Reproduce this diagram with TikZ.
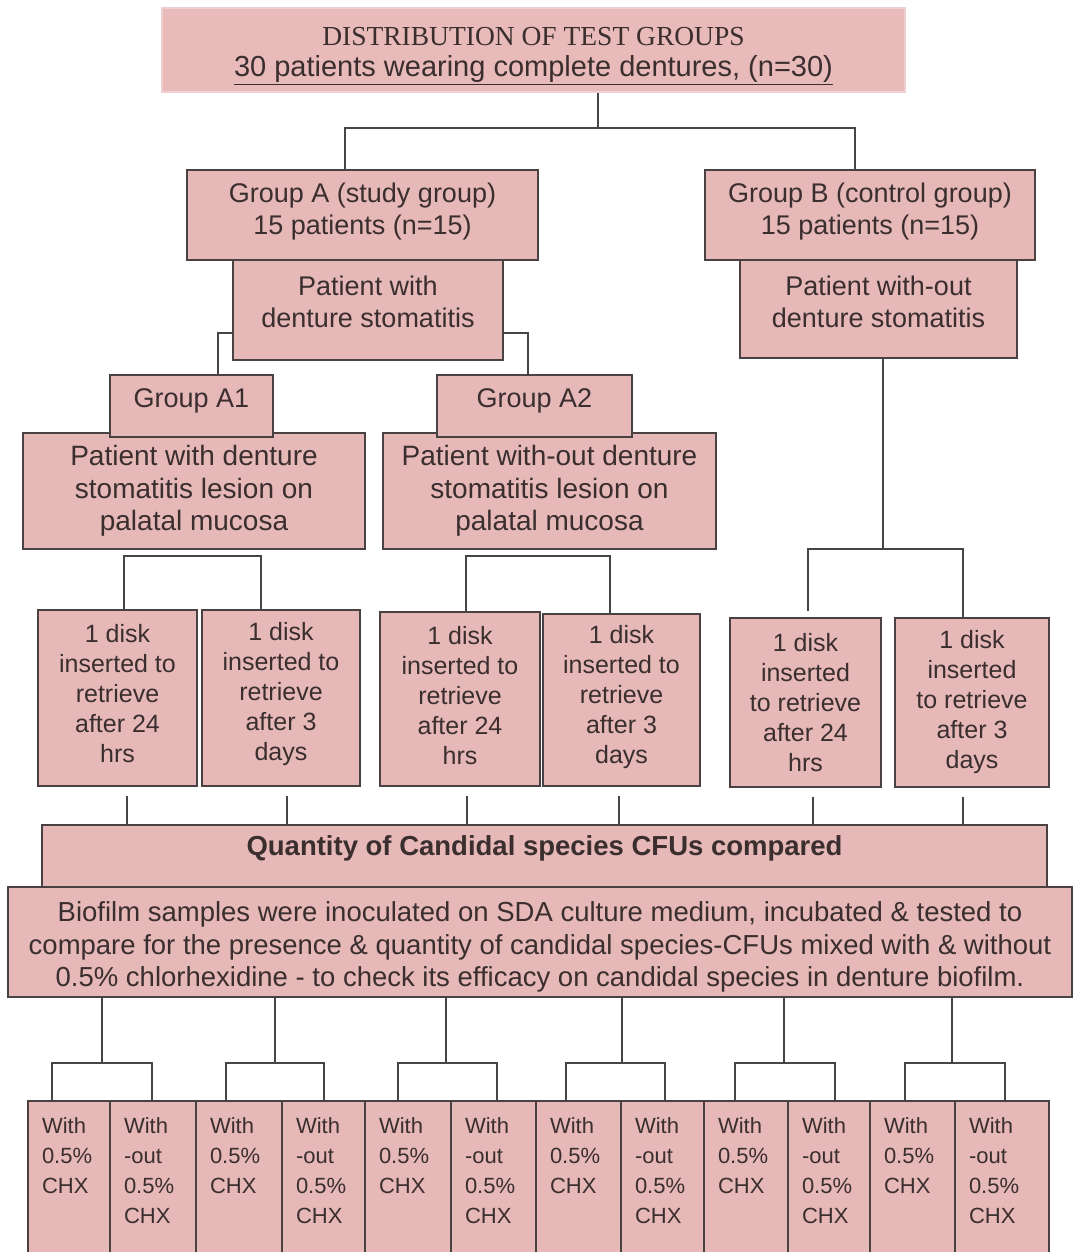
\documentclass[tikz,border=0pt]{standalone}
\usepackage{fontspec}
\setmainfont{Liberation Sans}
\newfontfamily\serifhead{Liberation Serif}
\definecolor{boxfill}{HTML}{E6B8B8}
\definecolor{topfill}{HTML}{E8BABA}
\definecolor{boxline}{HTML}{4A4242}
\definecolor{txt}{HTML}{3A2E2E}
\definecolor{linec}{HTML}{454545}
\begin{document}
\begin{tikzpicture}[x=1pt,y=-1pt,
  box/.style={draw=boxline, line width=2pt, fill=boxfill, text=txt, align=center, inner sep=0pt},
  lab/.style={text=txt, align=center, inner sep=0pt},
  glab/.style={lab, font=\fontsize{27}{32}\selectfont},
  blab/.style={lab, font=\fontsize{28}{32.5}\selectfont},
  dlab/.style={lab, font=\fontsize{25}{30}\selectfont},
  chx/.style={box, font=\fontsize{22}{30}\selectfont, anchor=north west},
  conn/.style={draw=linec, line width=1.8pt}]
\useasboundingbox (0,0) rectangle (1074,1252);
\fill[white] (0,0) rectangle (1074,1252);

% title
\node[fill=topfill, draw=topfill!70!white, line width=2pt, minimum width=743, minimum height=84,
      label={[lab, yshift=-6, font=\fontsize{29}{31}\selectfont]center:{{\serifhead\fontsize{27.5}{31}\selectfont DISTRIBUTION OF TEST GROUPS}\\
   \underline{30 patients wearing complete dentures, (n=30)}}}] (top) at (533.5,50) {};

% groups
\node[box, minimum width=351, minimum height=90,
      label={[glab, yshift=3]center:{Group A (study group)\\15 patients (n=15)}}] (GA) at (362.5,215) {};
\node[box, minimum width=270, minimum height=100,
      label={[glab, yshift=8]center:{Patient with\\denture stomatitis}}] (GAs) at (368,310) {};
\node[box, minimum width=330, minimum height=90,
      label={[glab, yshift=3]center:{Group B (control group)\\15 patients (n=15)}}] (GB) at (870,215) {};
\node[box, minimum width=277, minimum height=98,
      label={[glab, yshift=7]center:{Patient with-out\\denture stomatitis}}] (GBs) at (878.5,309) {};

\node[box, minimum width=342, minimum height=116,
      label={[blab]center:{Patient with denture\\stomatitis lesion on\\palatal mucosa}}] (A1b) at (194,491) {};
\node[box, minimum width=163, minimum height=62,
      label={[glab, yshift=5]center:{Group A1}}] (A1) at (191.5,406) {};
\node[box, minimum width=333, minimum height=116,
      label={[blab]center:{Patient with-out denture\\stomatitis lesion on\\palatal mucosa}}] (A2b) at (549.5,491) {};
\node[box, minimum width=195, minimum height=62,
      label={[glab, yshift=5]center:{Group A2}}] (A2) at (534.5,406) {};

% disks
\node[box, minimum width=159, minimum height=176,
      label={[dlab, yshift=4]center:{1 disk\\inserted to\\retrieve\\after 24\\hrs}}] (D1) at (117.5,698) {};
\node[box, minimum width=158, minimum height=176,
      label={[dlab, yshift=4]center:{1 disk\\inserted to\\retrieve\\after 3\\days}}] (D2) at (281,698) {};
\node[box, minimum width=160, minimum height=174,
      label={[dlab, yshift=3]center:{1 disk\\inserted to\\retrieve\\after 24\\hrs}}] (D3) at (460,699) {};
\node[box, minimum width=157, minimum height=172,
      label={[dlab, yshift=3]center:{1 disk\\inserted to\\retrieve\\after 3\\days}}] (D4) at (621.5,700) {};
\node[box, minimum width=151, minimum height=169,
      label={[dlab]center:{1 disk\\inserted\\to retrieve\\after 24\\hrs}}] (D5) at (805.5,702.5) {};
\node[box, minimum width=154, minimum height=169,
      label={[dlab]center:{1 disk\\inserted\\to retrieve\\after 3\\days}}] (D6) at (972,702.5) {};

% results
\node[box, minimum width=1005, minimum height=62,
      label={[lab, yshift=8, font=\bfseries\fontsize{27.5}{32}\selectfont]center:{Quantity of Candidal species CFUs compared}}] (Q) at (544.5,856) {};
\node[box, minimum width=1064, minimum height=110,
      label={[lab, yshift=-5, font=\fontsize{27.5}{32.5}\selectfont]center:{Biofilm samples were inoculated on SDA culture medium, incubated \& tested to\\
   compare for the presence \& quantity of candidal species-CFUs mixed with \& without\\
   0.5\% chlorhexidine - to check its efficacy on candidal species in denture biofilm.}}] (Bio) at (540,942) {};

% bottom boxes
\foreach \i/\l/\w/\k in {1/27/82/0,2/109/86/1,3/195/86/0,4/281/83/1,5/364/86/0,6/450/85/1,
                         7/535/85/0,8/620/83/1,9/703/84/0,10/787/82/1,11/869/85/0,12/954/94/1}{
  \ifnum\k=0
    \node[chx, minimum width=\w] (b\i) at (\l,1100)
      {\parbox[c][162pt][t]{\w pt}{\vspace*{17pt}\leftskip=14pt With\\0.5\%\\CHX}};
  \else
    \node[chx, minimum width=\w] (b\i) at (\l,1100)
      {\parbox[c][162pt][t]{\w pt}{\vspace*{17pt}\leftskip=14pt With\\-out\\0.5\%\\CHX}};
  \fi
}

% connectors: title to groups
\coordinate (c0) at (598,128);
\coordinate (cA) at (345,128);
\coordinate (cB) at (855,128);
\draw[conn] (top.south -| c0) -- (c0);
\draw[conn] (cA |- GA.north) -- (cA) -- (cB) -- (cB |- GB.north);

% group A to A1/A2
\coordinate (k1) at (218,333);
\coordinate (k2) at (528,333);
\draw[conn] (GAs.west |- k1) -- (k1) -- (k1 |- A1.north);
\draw[conn] (GAs.east |- k2) -- (k2) -- (k2 |- A2.north);

% to disks
\coordinate (m1) at (124,556); \coordinate (m2) at (261,556);
\draw[conn] (m1 |- D1.north) -- (m1) -- (m2) -- (m2 |- D2.north);
\coordinate (m3) at (466,556); \coordinate (m4) at (610,556);
\draw[conn] (m3 |- D3.north) -- (m3) -- (m4) -- (m4 |- D4.north);
\coordinate (n0) at (883,549); \coordinate (m5) at (808,549); \coordinate (m6) at (963,549);
\draw[conn] (GBs.south -| n0) -- (n0);
\draw[conn] ([yshift=6pt]m5 |- D5.north) -- (m5) -- (m6) -- (m6 |- D6.north);

% disks to Q
\foreach \d/\x in {D1/127,D2/287,D3/467,D4/619,D5/813,D6/963}{
  \coordinate (p\d) at (\x,825);
  \draw[conn, line width=1.4pt] ([yshift=-9pt]\d.south -| p\d) -- (p\d |- Q.north);
}

% Bio to bottom boxes
\foreach \j/\x/\a/\b/\ba/\bb in {1/102/52/152/b1/b2,2/275/226/324/b3/b4,3/446/398/497/b5/b6,
                                 4/622/566/665/b7/b8,5/784/735/835/b9/b10,6/952/905/1005/b11/b12}{
  \coordinate (q\j) at (\x,1063);
  \coordinate (qa\j) at (\a,1063);
  \coordinate (qb\j) at (\b,1063);
  \draw[conn] (Bio.south -| q\j) -- (q\j);
  \draw[conn] (qa\j |- \ba.north) -- (qa\j) -- (qb\j) -- (qb\j |- \bb.north);
}
\end{tikzpicture}
\end{document}
